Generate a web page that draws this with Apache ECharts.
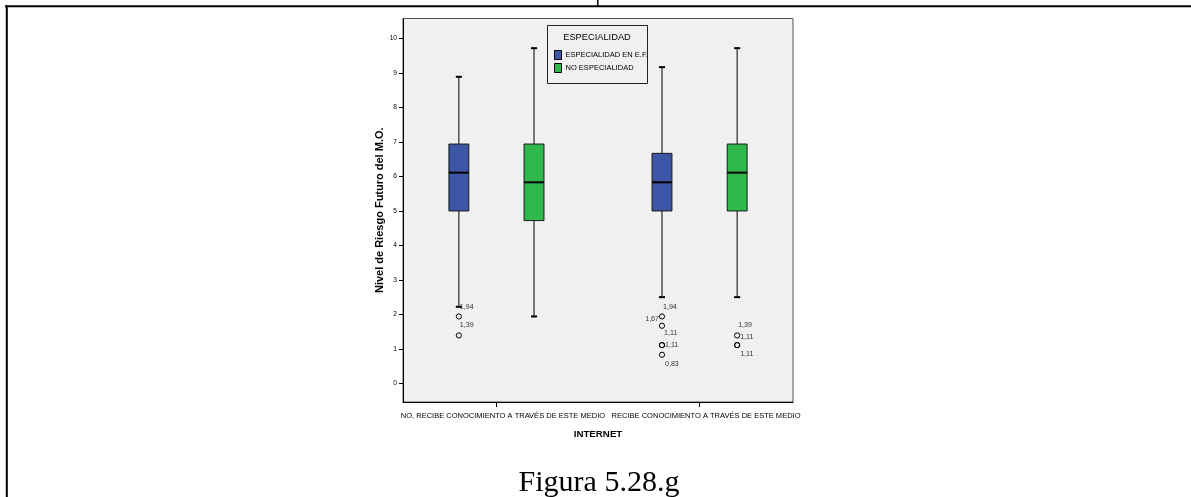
<!DOCTYPE html>
<html>
<head>
<meta charset="utf-8">
<script src="https://cdn.jsdelivr.net/npm/echarts@6/dist/echarts.min.js"></script>
<style>
  html, body { margin: 0; padding: 0; background: #ffffff; }
  #chart { width: 1191px; height: 497px; }
</style>
</head>
<body>
<div id="chart"></div>
<script>
// ---------------- DATA ----------------
const categories = [
  'NO, RECIBE CONOCIMIENTO A TRAVÉS DE ESTE MEDIO',
  'RECIBE CONOCIMIENTO A TRAVÉS DE ESTE MEDIO'
];
const seriesNames = ['ESPECIALIDAD EN E.F.', 'NO ESPECIALIDAD'];
// [min, Q1, median, Q3, max] per category
const especialidadBox = [
  [2.22, 5.00, 6.11, 6.94, 8.89],
  [2.50, 5.00, 5.83, 6.67, 9.17]
];
const noEspecialidadBox = [
  [1.94, 4.72, 5.83, 6.94, 9.72],
  [2.50, 5.00, 6.11, 6.94, 9.72]
];
// [category index, value]
const especialidadOutliers = [
  [0, 1.94], [0, 1.39],
  [1, 1.94], [1, 1.67], [1, 1.11], [1, 1.11], [1, 0.83]
];
const noEspecialidadOutliers = [
  [1, 1.39], [1, 1.11], [1, 1.11]
];
const yTicks = [0, 1, 2, 3, 4, 5, 6, 7, 8, 9, 10];
const legendTitle = 'ESPECIALIDAD';
const xAxisTitle = 'INTERNET';
const yAxisTitle = 'Nivel de Riesgo Futuro del M.O.';
const captionText = 'Figura 5.28.g';

// ---------------- STYLE ----------------
// label placement for outlier value labels: [dx px, dy px, align]
const especialidadLabelPlacement = [
  [1, -9, 'left'], [1, -10, 'left'],
  [1, -9, 'left'], [-3, -7, 'right'], [2, -12, 'left'], [3, 0, 'left'], [3, 9, 'left']
];
const noEspecialidadLabelPlacement = [
  [1, -10, 'left'], [3, -8, 'left'], [3, 9, 'left']
];
const colors = ['#3c55a5', '#2fb84b'];
const groupOffset = [-0.185, 0.185];

function fontAvailable(name) {
  const ctx = document.createElement('canvas').getContext('2d');
  ctx.font = '40px monospace';
  const w0 = ctx.measureText('ABCDEFGHIJ abcdefg 1234').width;
  ctx.font = '40px "' + name + '", monospace';
  const w1 = ctx.measureText('ABCDEFGHIJ abcdefg 1234').width;
  return Math.abs(w0 - w1) > 0.5;
}
const hasNarrow = fontAvailable('Liberation Sans Narrow');
const NARROW = hasNarrow ? '"Liberation Sans Narrow", "Arial Narrow", sans-serif' : '"Liberation Sans", Arial, sans-serif';
const NS = hasNarrow ? 1 : 0.885;
const ARIAL = '"Liberation Sans", Arial, sans-serif';

function fmt(v) { return v.toFixed(2).replace('.', ','); }

function makeBoxRender(off, color) {
  return function (params, api) {
    const xc = api.value(0) + off;
    const vmin = api.value(1), q1 = api.value(2), med = api.value(3), q3 = api.value(4), vmax = api.value(5);
    const pMin = api.coord([xc, vmin]);
    const pQ1 = api.coord([xc, q1]);
    const pMed = api.coord([xc, med]);
    const pQ3 = api.coord([xc, q3]);
    const pMax = api.coord([xc, vmax]);
    const hw = api.size([0.049, 0])[0];
    const cw = api.size([0.015, 0])[0];
    const x = pQ1[0];
    const lineStyle = { stroke: '#000', lineWidth: 1 };
    return {
      type: 'group',
      children: [
        { type: 'line', shape: { x1: x, y1: pMax[1], x2: x, y2: pQ3[1] }, style: lineStyle },
        { type: 'line', shape: { x1: x, y1: pQ1[1], x2: x, y2: pMin[1] }, style: lineStyle },
        { type: 'line', shape: { x1: x - cw, y1: pMax[1], x2: x + cw, y2: pMax[1] }, style: { stroke: '#000', lineWidth: 2 } },
        { type: 'line', shape: { x1: x - cw, y1: pMin[1], x2: x + cw, y2: pMin[1] }, style: { stroke: '#000', lineWidth: 2 } },
        { type: 'rect', shape: { x: x - hw, y: pQ3[1], width: hw * 2, height: pQ1[1] - pQ3[1] },
          style: { fill: color, stroke: '#1a1a1a', lineWidth: 1 } },
        { type: 'line', shape: { x1: x - hw, y1: pMed[1], x2: x + hw, y2: pMed[1] }, style: { stroke: '#000', lineWidth: 2 } }
      ]
    };
  };
}

function makeOutlierRender(off, placement) {
  return function (params, api) {
    const xc = api.value(0) + off;
    const v = api.value(1);
    const p = api.coord([xc, v]);
    const pl = placement[params.dataIndex];
    return {
      type: 'group',
      children: [
        { type: 'circle', shape: { cx: p[0], cy: p[1], r: 2.6 }, style: { fill: 'none', stroke: '#000', lineWidth: 1 } },
        { type: 'text', x: p[0] + pl[0], y: p[1] + pl[1],
          style: { text: fmt(v), fill: '#333', font: (8 * NS) + 'px ' + NARROW, align: pl[2], verticalAlign: 'middle' } }
      ]
    };
  };
}

const chart = echarts.init(document.getElementById('chart'), null, { renderer: 'canvas' });

const option = {
  animation: false,
  backgroundColor: '#ffffff',
  grid: {
    left: 403, top: 18.5, right: 398, bottom: 95,
    show: true, backgroundColor: '#f0f0f0', borderColor: '#555', borderWidth: 1
  },
  legend: {
    data: seriesNames,
    orient: 'vertical',
    left: 554, top: 50,
    padding: 0,
    itemGap: 3,
    itemWidth: 7, itemHeight: 9,
    icon: 'rect',
    itemStyle: { borderColor: '#000', borderWidth: 1 },
    textStyle: { fontFamily: NARROW, fontSize: 8.5 * NS, color: '#000', padding: [0, 0, 0, -1] },
    z: 10,
    selectedMode: false
  },
  xAxis: {
    type: 'value',
    min: -0.46, max: 1.46,
    name: xAxisTitle,
    nameLocation: 'middle',
    nameGap: 27,
    nameTextStyle: { fontFamily: NARROW, fontWeight: 'bold', fontSize: 11 * NS, color: '#000' },
    splitLine: { show: false },
    axisLine: { show: true, onZero: false, lineStyle: { color: '#000', width: 1 } },
    axisTick: { show: true, customValues: [0, 1], length: 5, lineStyle: { color: '#000' } },
    axisLabel: {
      show: true, customValues: [0, 1], margin: 10,
      padding: [0, 0, 0, 13],
      formatter: function (v) { return categories[Math.round(v)] || ''; },
      fontFamily: NARROW, fontSize: 8.5 * NS, color: '#000'
    }
  },
  yAxis: {
    type: 'value',
    min: -0.54, max: 10.58,
    name: yAxisTitle,
    nameLocation: 'middle',
    nameRotate: 90,
    nameGap: 14,
    nameTextStyle: { fontFamily: ARIAL, fontWeight: 'bold', fontSize: 11, color: '#000' },
    splitLine: { show: false },
    axisLine: { show: true, onZero: false, lineStyle: { color: '#000', width: 1 } },
    axisTick: { show: true, customValues: yTicks, length: 4, lineStyle: { color: '#000' } },
    axisLabel: {
      show: true, customValues: yTicks, margin: 6,
      fontFamily: NARROW, fontSize: 7.5 * NS, color: '#000'
    }
  },
  graphic: [
    // document table frame
    { type: 'line', shape: { x1: 5, y1: 6.3, x2: 1191, y2: 6.3 }, style: { stroke: '#000', lineWidth: 2 }, silent: true },
    { type: 'line', shape: { x1: 597.8, y1: 0, x2: 597.8, y2: 6 }, style: { stroke: '#000', lineWidth: 1.5 }, silent: true },
    { type: 'line', shape: { x1: 6.8, y1: 5.3, x2: 6.8, y2: 497 }, style: { stroke: '#000', lineWidth: 2 }, silent: true },
    // legend frame and title
    { type: 'rect', shape: { x: 547.5, y: 25.5, width: 100, height: 58 }, style: { fill: '#f0f0f0', stroke: '#222', lineWidth: 1 }, z: 5, silent: true },
    { type: 'text', x: 597, y: 37, style: { text: legendTitle, font: (10.5 * NS) + 'px ' + NARROW, fill: '#000', align: 'center', verticalAlign: 'middle' }, z: 6, silent: true },
    // caption
    { type: 'text', x: 599, y: 483, style: { text: captionText, font: '30px "Liberation Serif", "Times New Roman", serif', fill: '#000', align: 'center', verticalAlign: 'middle' }, silent: true }
  ],
  series: [
    {
      name: seriesNames[0], type: 'custom',
      itemStyle: { color: colors[0] },
      encode: { x: 0, y: [1, 2, 3, 4, 5] },
      renderItem: makeBoxRender(groupOffset[0], colors[0]),
      data: especialidadBox.map(function (b, i) { return [i].concat(b); }),
      z: 3
    },
    {
      name: seriesNames[1], type: 'custom',
      itemStyle: { color: colors[1] },
      encode: { x: 0, y: [1, 2, 3, 4, 5] },
      renderItem: makeBoxRender(groupOffset[1], colors[1]),
      data: noEspecialidadBox.map(function (b, i) { return [i].concat(b); }),
      z: 3
    },
    {
      name: 'outliers-esp', type: 'custom',
      encode: { x: 0, y: 1 },
      renderItem: makeOutlierRender(groupOffset[0], especialidadLabelPlacement),
      data: especialidadOutliers,
      z: 4
    },
    {
      name: 'outliers-noesp', type: 'custom',
      encode: { x: 0, y: 1 },
      renderItem: makeOutlierRender(groupOffset[1], noEspecialidadLabelPlacement),
      data: noEspecialidadOutliers,
      z: 4
    }
  ]
};
chart.setOption(option);
</script>
</body>
</html>
